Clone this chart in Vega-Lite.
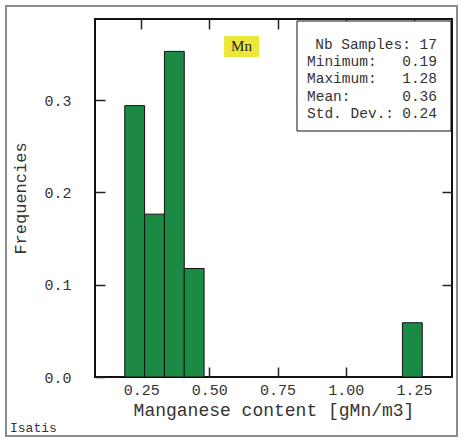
{
  "$schema": "https://vega.github.io/schema/vega-lite/v6.json",
  "width": 357,
  "height": 358,
  "autosize": {"type": "none"},
  "padding": {"left": 95, "top": 19, "right": 7, "bottom": 62},
  "background": "white",
  "datasets": {
    "bins": [
      {"bin_start": 0.19, "bin_end": 0.2627, "freq": 0.2941},
      {"bin_start": 0.2627, "bin_end": 0.3353, "freq": 0.1765},
      {"bin_start": 0.3353, "bin_end": 0.408, "freq": 0.3529},
      {"bin_start": 0.408, "bin_end": 0.4807, "freq": 0.1176},
      {"bin_start": 1.2073, "bin_end": 1.28, "freq": 0.0588}
    ],
    "stats": [
      {"label": "", "value": "Nb Samples: 17", "line": 1},
      {"label": "Minimum:", "value": "0.19", "line": 2},
      {"label": "Maximum:", "value": "1.28", "line": 3},
      {"label": "Mean:", "value": "0.36", "line": 4},
      {"label": "Std. Dev.:", "value": "0.24", "line": 5}
    ]
  },
  "config": {
    "view": {"stroke": "#111111", "strokeWidth": 2},
    "font": "Liberation Mono",
    "axis": {
      "domain": false,
      "grid": false,
      "tickSize": -10,
      "tickColor": "#222222",
      "tickWidth": 1.5,
      "labelFont": "Liberation Mono",
      "labelFontSize": 15,
      "labelColor": "#333333",
      "titleFont": "Liberation Mono",
      "titleFontSize": 18,
      "titleFontWeight": "normal",
      "titleColor": "#333333",
      "zindex": 1
    }
  },
  "layer": [
    {
      "layer": [
        {
          "data": {"values": [{}]},
          "mark": {"type": "rect", "fill": "white", "fillOpacity": 0, "stroke": "#8a8a8a", "strokeWidth": 2, "clip": false},
          "encoding": {
            "x": {"datum": -0.2451, "type": "quantitative"},
            "x2": {"datum": 1.4073},
            "y": {"datum": 0.40209, "type": "quantitative"},
            "y2": {"datum": -0.06395}
          }
        },
        {
          "data": {"name": "bins"},
          "mark": {"type": "rect", "fill": "#1b8a44", "stroke": "#111111", "strokeWidth": 1},
          "encoding": {
            "x": {
              "field": "bin_start", "type": "quantitative",
              "scale": {"domain": [0.081, 1.389], "nice": false, "zero": false},
              "axis": {"orient": "bottom", "values": [0.25, 0.5, 0.75, 1, 1.25], "format": ".2f", "labelPadding": 15, "title": "Manganese content [gMn/m3]", "titlePadding": 4}
            },
            "x2": {"field": "bin_end"},
            "y": {
              "field": "freq", "type": "quantitative",
              "scale": {"domain": [0, 0.388], "nice": false, "zero": false},
              "axis": {"orient": "left", "values": [0, 0.1, 0.2, 0.3], "format": ".1f", "labelPadding": 34, "title": "Frequencies", "titlePadding": 14, "titleFontSize": 17}
            }
          }
        },
        {
          "data": {"values": [{}]},
          "mark": {"type": "rect", "fill": "white", "stroke": "#111111", "strokeWidth": 1},
          "encoding": {
            "x": {"datum": 0.8211, "type": "quantitative"},
            "x2": {"datum": 1.3853},
            "y": {"datum": 0.38583, "type": "quantitative"},
            "y2": {"datum": 0.26661}
          }
        },
        {
          "data": {"values": [{}]},
          "mark": {"type": "rect", "fill": "#ebe83a"},
          "encoding": {
            "x": {"datum": 0.5536, "type": "quantitative"},
            "x2": {"datum": 0.6819},
            "y": {"datum": 0.36958, "type": "quantitative"},
            "y2": {"datum": 0.34682}
          }
        },
        {
          "data": {"values": [{"name": "Mn"}]},
          "mark": {"type": "text", "font": "Liberation Serif", "fontSize": 15, "color": "#222222", "align": "center", "baseline": "middle"},
          "encoding": {
            "x": {"datum": 0.6178, "type": "quantitative"},
            "y": {"datum": 0.3582, "type": "quantitative"},
            "text": {"field": "name"}
          }
        },
        {
          "data": {"values": [{"name": "Isatis"}]},
          "mark": {"type": "text", "font": "Liberation Mono", "fontSize": 13, "color": "#333333", "align": "left", "baseline": "middle", "clip": false},
          "encoding": {
            "x": {"datum": -0.2304, "type": "quantitative"},
            "y": {"datum": -0.05527, "type": "quantitative"},
            "text": {"field": "name"}
          }
        }
      ]
    },
    {
      "data": {"name": "bins"},
      "mark": {"type": "point", "opacity": 0},
      "encoding": {
        "x": {
          "field": "bin_start", "type": "quantitative",
          "scale": {"domain": [0.081, 1.389], "nice": false, "zero": false},
          "axis": {"orient": "top", "values": [0.25, 0.5, 0.75, 1, 1.25], "labels": false, "title": null}
        },
        "y": {
          "field": "freq", "type": "quantitative",
          "scale": {"domain": [0, 0.388], "nice": false, "zero": false},
          "axis": {"orient": "right", "values": [0.1, 0.2, 0.3], "labels": false, "title": null}
        }
      }
    },
    {
      "data": {"name": "stats"},
      "layer": [
        {
          "mark": {"type": "text", "font": "Liberation Mono", "fontSize": 14.5, "color": "#333333", "align": "left", "baseline": "middle"},
          "encoding": {
            "x": {"datum": 0.8578, "type": "quantitative", "axis": null},
            "y": {"field": "line", "type": "quantitative", "scale": {"domain": [-0.5116, 20.302], "nice": false, "zero": false, "reverse": true}, "axis": null},
            "text": {"field": "label"}
          }
        },
        {
          "mark": {"type": "text", "font": "Liberation Mono", "fontSize": 14.5, "color": "#333333", "align": "right", "baseline": "middle"},
          "encoding": {
            "x": {"datum": 1.3341, "type": "quantitative", "axis": null},
            "y": {"field": "line", "type": "quantitative", "axis": null},
            "text": {"field": "value"}
          }
        }
      ]
    }
  ],
  "resolve": {"scale": {"y": "independent"}, "axis": {"x": "independent", "y": "independent"}}
}
